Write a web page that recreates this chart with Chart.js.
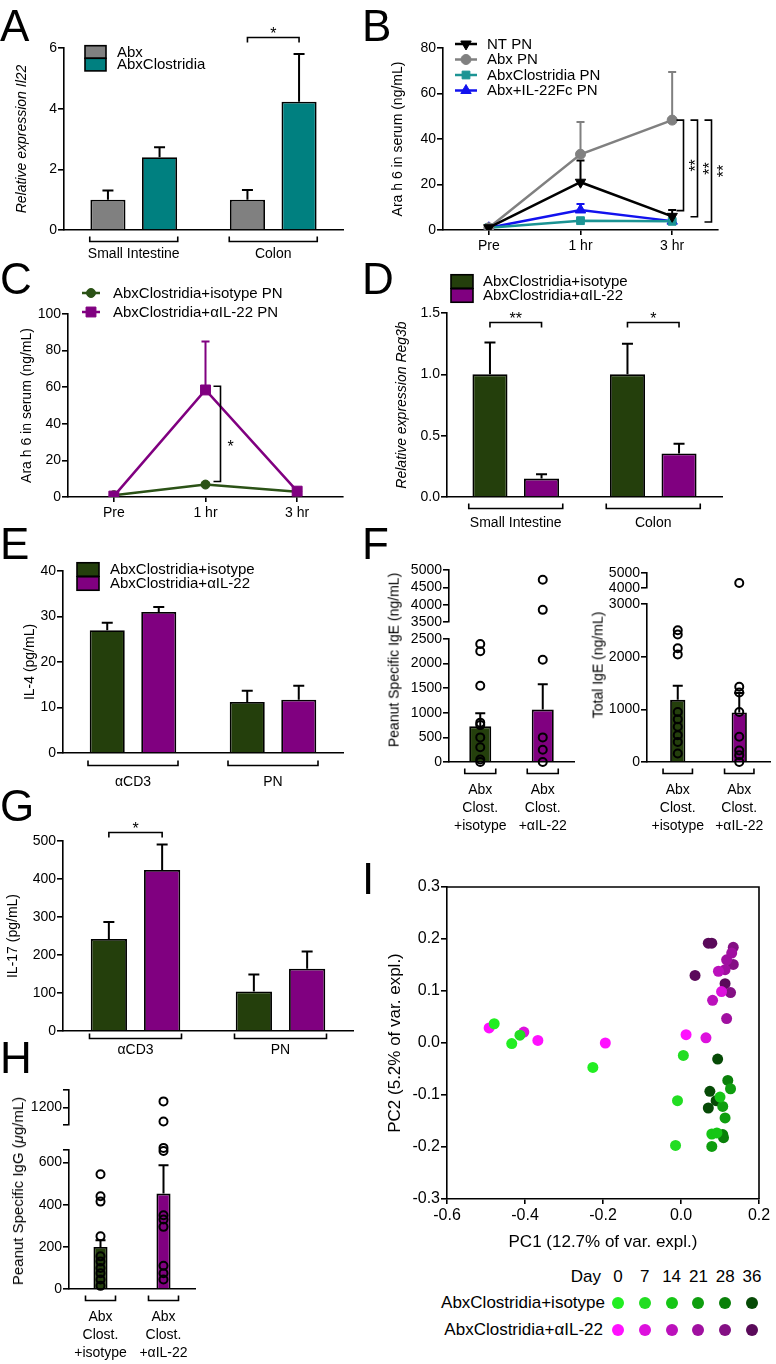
<!DOCTYPE html>
<html>
<head>
<meta charset="utf-8">
<title>IL-22 / Clostridia figure</title>
<script src="https://cdn.jsdelivr.net/npm/chart.js@4.4.1/dist/chart.umd.min.js"></script>
<style>
  body { margin: 0; background: #fff; font-family: 'Liberation Sans', Arial, sans-serif; color: #000; }
  #page { position: relative; width: 776px; height: 1364px; overflow: hidden; background: #fff; }
  .letter { position: absolute; font-size: 44px; line-height: 44px; }
  .ytitle { position: absolute; white-space: nowrap; line-height: 1.2; transform: translate(-50%, -50%) rotate(-90deg); }
  .lg { position: absolute; white-space: nowrap; font-size: 17px; line-height: 20px; }
  .dot { position: absolute; width: 12px; height: 12px; border-radius: 50%; }
</style>
</head>
<body>
<div id="page"></div>
<script>
// --- DATA ---

// A: Il22 expression
const tissueCats = ['Small Intestine', 'Colon'];
const il22Abx = [1.0, 1.0];
const il22AbxHi = [1.3, 1.32];
const il22Clos = [2.4, 4.23];
const il22ClosHi = [2.73, 5.8];

// B: Ara h 6 after challenge
const timeCats = ['Pre', '1 hr', '3 hr'];
const araNT = [1, 21, 6];
const araNTHi = [1, 30.5, 8.8];
const araAbx = [1, 33.3, 48.3];
const araAbxHi = [1, 47.5, 69.5];
const araClos = [1, 4.1, 3.8];
const araClosHi = [1, 4.6, 4.3];
const araFc = [1, 8.8, 3.9];
const araFcHi = [1, 11.4, 4.6];

// C: Ara h 6, isotype vs anti-IL-22
const araIso = [1, 6.8, 2.9];
const araIsoHi = [1, 7.4, 3.3];
const araAnti = [0.5, 58.5, 3.2];
const araAntiHi = [0.5, 85, 3.8];

// D: Reg3b
const reg3bIso = [1.0, 1.0];
const reg3bIsoHi = [1.26, 1.25];
const reg3bAnti = [0.15, 0.355];
const reg3bAntiHi = [0.185, 0.435];

// E: IL-4
const stimCats = ['\u03b1CD3', 'PN'];
const il4Iso = [27, 11.2];
const il4IsoHi = [28.6, 13.7];
const il4Anti = [31, 11.7];
const il4AntiHi = [32.1, 14.8];

// F: IgE
const groupKeys = ['iso', 'anti'];
const groupNames = [['Abx', 'Clost.', '+isotype'], ['Abx', 'Clost.', '+\u03b1IL-22']];
const psIgEMean = [725, 1065];
const psIgEHi = [990, 1580];
const psIgEIso = [2400, 2250, 1550, 800, 750, 500, 300, 50, 0];
const psIgEAnti = [2080, 500, 250, 0];
const psIgEAntiHigh = [4720, 3850];
const totIgEMean = [1180, 940];
const totIgEHi = [1450, 1310];
const totIgEIso = [2500, 2420, 2160, 2040, 950, 810, 670, 510, 380, 160];
const totIgEAnti = [1430, 1320, 950, 480, 220, 130, 0];
const totIgEAntiHigh = [4330];

// G: IL-17
const il17Iso = [242, 104];
const il17IsoHi = [287, 149];
const il17Anti = [424, 164];
const il17AntiHi = [491, 209];

// H: IgG
const igGMean = [200, 453];
const igGHi = [232, 587];
const igGIso = [545, 440, 415, 250, 155, 130, 100, 75, 45, 15];
const igGAnti = [670, 655, 350, 330, 295, 110, 75, 45];
const igGAntiHigh = [1235, 1120];

// I: PCA (PC1, PC2) per treatment and day
const days = ['0', '7', '14', '21', '28', '36'];
const isoD0 = [[-0.479, 0.037], [-0.434, -0.001], [-0.226, -0.047]];
const isoD7 = [[-0.413, 0.015], [0.006, -0.024], [-0.009, -0.111], [-0.014, -0.197]];
const isoD14 = [[0.079, -0.175], [0.092, -0.173], [0.100, -0.104]];
const isoD21 = [[0.079, -0.199], [0.107, -0.122], [0.127, -0.088], [0.113, -0.144]];
const isoD28 = [[0.120, -0.072], [0.107, -0.176], [0.109, -0.182]];
const isoD36 = [[0.094, -0.031], [0.074, -0.093], [0.090, -0.111], [0.070, -0.125]];
const antiD0 = [[-0.492, 0.029], [-0.367, 0.005], [-0.194, 0.000], [0.013, 0.016]];
const antiD7 = [[-0.403, 0.021], [0.064, 0.010], [0.104, 0.099]];
const antiD14 = [[0.081, 0.082], [0.096, 0.138]];
const antiD21 = [[0.117, 0.160], [0.113, 0.141], [0.117, 0.047], [0.130, 0.173]];
const antiD28 = [[0.134, 0.184], [0.134, 0.151], [0.127, 0.097]];
const antiD36 = [[0.070, 0.192], [0.079, 0.192], [0.036, 0.130], [0.113, 0.114]];

// --- COLOURS ---
const GREY = '#808080', TEAL = '#008080', GREEN = '#243f0c', PURPLE = '#800080';
const isoDayColors = ['#22ee22', '#22dd22', '#16c616', '#0f9e0f', '#0a800a', '#064a06'];
const antiDayColors = ['#ff11ff', '#dd11dd', '#bb11bb', '#a010a0', '#841084', '#5a0a5a'];

const FONT = "'Liberation Sans', Arial, sans-serif";
const page = document.getElementById('page');

Chart.defaults.font.family = FONT;
Chart.defaults.font.size = 14;
Chart.defaults.color = '#000';
Chart.defaults.animation = false;
Chart.defaults.responsive = false;
Chart.defaults.plugins.legend.display = false;
Chart.defaults.plugins.tooltip.enabled = false;

// --- HELPERS ---

function makeCanvas(box) {
    const c = document.createElement('canvas');
    c.width = box[2];
    c.height = box[3];
    c.style.cssText = 'position:absolute;left:' + box[0] + 'px;top:' + box[1] + 'px;width:' + box[2] + 'px;height:' + box[3] + 'px';
    page.appendChild(c);
    return c;
}

// canvas box [x,y,w,h] + plot area [L,T,R,B] (page px) -> layout numbers
function pin(box, area, noX) {
    return {
        layout: { padding: { left: 0, top: area[1] - box[1], right: box[0] + box[2] - area[2], bottom: noX ? box[1] + box[3] - area[3] : 0 } },
        yw: area[0] - box[0],
        xh: box[1] + box[3] - area[3]
    };
}

function yLin(p, min, max, step, more) {
    more = more || {};
    const s = {
        min: min, max: max,
        border: { color: '#000', width: 1.6 },
        grid: { drawOnChartArea: false, color: '#000', lineWidth: 1.6, tickLength: 6 },
        ticks: Object.assign({ stepSize: step, padding: 1, autoSkip: false, font: { size: more.tick || 14 },
                               callback: v => String(v) }, more.ticks || {}),
        afterFit: sc => { sc.width = p.yw; sc.paddingTop = 0; sc.paddingBottom = 0; }
    };
    if (more.title) {
        s.title = { display: true, text: more.title, padding: { top: more.tpad, bottom: 0 },
                    font: { size: more.tsize || 14, style: more.italic ? 'italic' : 'normal' } };
    }
    if (more.list) s.afterBuildTicks = sc => { sc.ticks = more.list.map(v => ({ value: v })); };
    return s;
}

function xBars(p, pad, names) {
    const s = {
        offset: true,
        grid: { display: false, drawTicks: false },
        border: { color: '#000', width: 1.6 },
        ticks: { padding: pad, maxRotation: 0, autoSkip: false, font: { size: 14, lineHeight: names ? 1.3 : 1.2 } },
        afterFit: sc => { sc.height = p.xh; sc.paddingLeft = 0; sc.paddingRight = 0; }
    };
    if (names) s.ticks.callback = (v, i) => names[i];
    return s;
}

function xTimes(p, pad) {
    return {
        offset: true,
        grid: { drawOnChartArea: false, offset: false, color: '#000', lineWidth: 1.6, tickLength: 5 },
        border: { color: '#000', width: 1.6 },
        ticks: { padding: pad, maxRotation: 0, font: { size: 14 } },
        afterFit: sc => { sc.height = p.xh; sc.paddingLeft = 0; sc.paddingRight = 0; }
    };
}

const barLook = { borderColor: '#000', borderWidth: 1.8, capW: 11 };

function lineLook(color, style, r, rot) {
    return { borderColor: color, backgroundColor: color, errColor: color, borderWidth: 2.5,
             pointStyle: style, pointRadius: r, pointRotation: rot || 0,
             pointBackgroundColor: color, pointBorderColor: color, pointBorderWidth: 1, capW: 8 };
}

// open circles for individual mice
function dots(key, values) {
    return { type: 'line', data: values.map(v => ({ x: key, y: v })), showLine: false,
             pointRadius: 4, pointBorderWidth: 2, pointBorderColor: '#000',
             pointBackgroundColor: 'rgba(0,0,0,0)', clip: false, order: 0 };
}

function yTitle(html, cx, cy, size) {
    const d = document.createElement('div');
    d.className = 'ytitle';
    d.innerHTML = html;
    d.style.left = cx + 'px';
    d.style.top = cy + 'px';
    d.style.fontSize = size + 'px';
    page.appendChild(d);
}

// --- PLUGINS ---

Chart.register({
    id: 'errorBars',
    beforeDatasetsDraw(chart) {
        const ctx = chart.ctx;
        chart.data.datasets.forEach((ds, i) => {
            if (!ds.errTop) return;
            const meta = chart.getDatasetMeta(i);
            const ys = chart.scales[meta.yAxisID];
            const half = (ds.capW || 10) / 2;
            ctx.save();
            ctx.strokeStyle = ds.errColor || '#000';
            ctx.lineWidth = 2;
            meta.data.forEach((el, j) => {
                const top = ys.getPixelForValue(ds.errTop[j]);
                if (el.y - top < 1) return;
                ctx.beginPath();
                ctx.moveTo(el.x, el.y);
                ctx.lineTo(el.x, top);
                ctx.moveTo(el.x - half, top);
                ctx.lineTo(el.x + half, top);
                ctx.stroke();
            });
            ctx.restore();
        });
    }
});

// brackets under each category
Chart.register({
    id: 'groupBrackets',
    afterDraw(chart, args, o) {
        if (!o.half) return;
        const ctx = chart.ctx;
        const y = Math.round(chart.chartArea.bottom + o.dy) + 0.5;
        const metas = chart.getSortedVisibleDatasetMetas().filter(m => m.type === 'bar');
        ctx.save();
        ctx.strokeStyle = '#000';
        ctx.lineWidth = 1.6;
        chart.data.labels.forEach((_, j) => {
            const xs = metas.map(m => m.data[j].x);
            const c = (Math.min(...xs) + Math.max(...xs)) / 2;
            ctx.beginPath();
            ctx.moveTo(c - o.half, y - 5);
            ctx.lineTo(c - o.half, y);
            ctx.lineTo(c + o.half, y);
            ctx.lineTo(c + o.half, y - 5);
            ctx.stroke();
        });
        ctx.restore();
    }
});

// significance brackets over two bars
Chart.register({
    id: 'sigBars',
    afterDatasetsDraw(chart, args, o) {
        if (!o.items) return;
        const ctx = chart.ctx, ys = chart.scales.y;
        ctx.save();
        ctx.strokeStyle = '#000';
        ctx.fillStyle = '#000';
        ctx.lineWidth = 1.6;
        ctx.font = '16px ' + FONT;
        ctx.textAlign = 'center';
        ctx.textBaseline = 'alphabetic';
        o.items.forEach(it => {
            const a = chart.getDatasetMeta(0).data[it.cat].x;
            const b = chart.getDatasetMeta(1).data[it.cat].x;
            const y = Math.round(ys.getPixelForValue(it.v)) + 0.5;
            ctx.beginPath();
            ctx.moveTo(a, y + 5);
            ctx.lineTo(a, y);
            ctx.lineTo(b, y);
            ctx.lineTo(b, y + 5);
            ctx.stroke();
            ctx.fillText(it.text, (a + b) / 2, y + 1);
        });
        ctx.restore();
    }
});

// vertical significance brackets beside a time point
Chart.register({
    id: 'sideBrackets',
    afterDatasetsDraw(chart, args, o) {
        if (!o.items) return;
        const ctx = chart.ctx, ys = chart.scales.y, xs = chart.scales.x;
        ctx.save();
        ctx.strokeStyle = '#000';
        ctx.fillStyle = '#000';
        ctx.lineWidth = 1.6;
        ctx.font = '16px ' + FONT;
        ctx.textAlign = 'center';
        o.items.forEach(it => {
            const x = Math.round(xs.getPixelForValue(it.cat) + it.dx) + 0.5;
            const t = ys.getPixelForValue(it.top), b = ys.getPixelForValue(it.bot);
            ctx.beginPath();
            ctx.moveTo(x - 7, t);
            ctx.lineTo(x, t);
            ctx.lineTo(x, b);
            ctx.lineTo(x - 7, b);
            ctx.stroke();
            const tx = x + it.tdx, ty = (t + b) / 2 + (it.tdy || 0);
            ctx.save();
            ctx.translate(tx, ty);
            if (it.rot) {
                ctx.rotate(-Math.PI / 2);
                ctx.textBaseline = 'middle';
                ctx.fillText(it.text, 0, 0);
            } else {
                ctx.textBaseline = 'alphabetic';
                ctx.fillText(it.text, 0, 9);
            }
            ctx.restore();
        });
        ctx.restore();
    }
});

// legend drawn at fixed spots
Chart.register({
    id: 'keys',
    afterDraw(chart, args, o) {
        if (!o.items) return;
        const ctx = chart.ctx, ox = o.origin[0], oy = o.origin[1];
        ctx.save();
        ctx.font = '15px ' + FONT;
        ctx.textBaseline = 'middle';
        ctx.textAlign = 'left';
        o.items.forEach(it => {
            const ds = chart.data.datasets[it.ds];
            const y = it.y - oy;
            if (it.w) {
                ctx.fillStyle = ds.backgroundColor;
                ctx.fillRect(it.x - ox, y - it.h / 2, it.w, it.h);
                ctx.strokeStyle = '#000';
                ctx.lineWidth = 1.6;
                ctx.strokeRect(it.x - ox, y - it.h / 2, it.w, it.h);
            } else {
                ctx.strokeStyle = ds.borderColor;
                ctx.fillStyle = ds.borderColor;
                ctx.lineWidth = ds.borderWidth;
                ctx.beginPath();
                ctx.moveTo(it.x1 - ox, y);
                ctx.lineTo(it.x2 - ox, y);
                ctx.stroke();
                ctx.lineWidth = 1;
                const cx = (it.x1 + it.x2) / 2 - ox;
                if (Chart.helpers && Chart.helpers.drawPoint) {
                    Chart.helpers.drawPoint(ctx, { pointStyle: ds.pointStyle, rotation: ds.pointRotation || 0,
                                                   radius: ds.pointRadius, borderWidth: 1 }, cx, y);
                } else {
                    ctx.beginPath();
                    ctx.arc(cx, y, ds.pointRadius, 0, Math.PI * 2);
                    ctx.fill();
                }
            }
            ctx.fillStyle = '#000';
            ctx.fillText(ds.label, it.tx - ox, y + 0.5);
        });
        ctx.restore();
    }
});

// top and right edges of the PCA box
Chart.register({
    id: 'frame',
    afterDraw(chart, args, o) {
        if (!o.on) return;
        const a = chart.chartArea, ctx = chart.ctx;
        ctx.save();
        ctx.strokeStyle = '#000';
        ctx.lineWidth = 1.6;
        ctx.beginPath();
        ctx.moveTo(a.left, a.top);
        ctx.lineTo(a.right, a.top);
        ctx.lineTo(a.right, a.bottom);
        ctx.stroke();
        ctx.restore();
    }
});

// --- A ---
const boxA = [0, 15, 380, 255];
const pA = pin(boxA, [64, 48, 343, 230]);
new Chart(makeCanvas(boxA), {
    type: 'bar',
    data: {
        labels: tissueCats,
        datasets: [
            Object.assign({ label: 'Abx', data: il22Abx, errTop: il22AbxHi, backgroundColor: GREY }, barLook),
            Object.assign({ label: 'AbxClostridia', data: il22Clos, errTop: il22ClosHi, backgroundColor: TEAL }, barLook)
        ]
    },
    options: {
        layout: pA.layout,
        datasets: { bar: { categoryPercentage: 0.74, barPercentage: 0.68 } },
        scales: {
            x: xBars(pA, 16),
            y: yLin(pA, 0, 6, 2, { title: 'Relative expression Il22', italic: true, tpad: 13.6 })
        },
        plugins: {
            groupBrackets: { half: 44, dy: 11 },
            sigBars: { items: [{ cat: 1, v: 6.35, text: '*' }] },
            keys: { origin: boxA, items: [
                { ds: 0, x: 85, y: 52, w: 21, h: 12.6, tx: 117 },
                { ds: 1, x: 85, y: 64.6, w: 21, h: 12.6, tx: 117 }
            ] }
        }
    }
});

// --- B ---
const boxB = [380, 15, 396, 255];
const pB = pin(boxB, [443, 48, 718, 230]);
new Chart(makeCanvas(boxB), {
    type: 'line',
    data: {
        labels: timeCats,
        datasets: [
            Object.assign({ label: 'NT PN', data: araNT, errTop: araNTHi }, lineLook('#000', 'triangle', 6, 180)),
            Object.assign({ label: 'Abx PN', data: araAbx, errTop: araAbxHi }, lineLook(GREY, 'circle', 5)),
            Object.assign({ label: 'AbxClostridia PN', data: araClos, errTop: araClosHi }, lineLook('#1c9494', 'rect', 5.5)),
            Object.assign({ label: 'Abx+IL-22Fc PN', data: araFc, errTop: araFcHi }, lineLook('#1212ee', 'triangle', 6))
        ]
    },
    options: {
        layout: pB.layout,
        scales: {
            x: xTimes(pB, 3),
            y: yLin(pB, 0, 80, 20, { title: 'Ara h 6 in serum (ng/mL)', tpad: 9.6 })
        },
        plugins: {
            sideBrackets: { items: [
                { cat: 2, dx: 11, top: 48.3, bot: 8.5, text: '**', tdx: 13, rot: true },
                { cat: 2, dx: 25, top: 48.3, bot: 5.8, text: '**', tdx: 13, rot: true },
                { cat: 2, dx: 39, top: 48.3, bot: 3.5, text: '**', tdx: 13, rot: true }
            ] },
            keys: { origin: boxB, items: [
                { ds: 0, x1: 455, x2: 477, y: 44, tx: 487 },
                { ds: 1, x1: 455, x2: 477, y: 59.5, tx: 487 },
                { ds: 2, x1: 455, x2: 477, y: 75, tx: 487 },
                { ds: 3, x1: 455, x2: 477, y: 90.5, tx: 487 }
            ] }
        }
    }
});

// --- C ---
const boxC = [0, 270, 380, 265];
const pC = pin(boxC, [68, 314, 343, 497]);
new Chart(makeCanvas(boxC), {
    type: 'line',
    data: {
        labels: timeCats,
        datasets: [
            Object.assign({ label: 'AbxClostridia+isotype PN', data: araIso, errTop: araIsoHi, order: 1 }, lineLook('#2b5216', 'circle', 4.5)),
            Object.assign({ label: 'AbxClostridia+\u03b1IL-22 PN', data: araAnti, errTop: araAntiHi, order: 0 }, lineLook(PURPLE, 'rect', 7))
        ]
    },
    options: {
        layout: pC.layout,
        scales: {
            x: xTimes(pC, 2.3),
            y: yLin(pC, 0, 100, 20, { title: 'Ara h 6 in serum (ng/mL)', tpad: 18.6 })
        },
        plugins: {
            sideBrackets: { items: [{ cat: 1, dx: 14, top: 60.5, bot: 8.5, text: '*', tdx: 10, tdy: 9 }] },
            keys: { origin: boxC, items: [
                { ds: 0, x1: 82, x2: 100, y: 293, tx: 113 },
                { ds: 1, x1: 82, x2: 100, y: 312, tx: 113 }
            ] }
        }
    }
});

// --- D ---
const boxD = [380, 270, 396, 265];
const pD = pin(boxD, [447, 313, 722, 497]);
new Chart(makeCanvas(boxD), {
    type: 'bar',
    data: {
        labels: tissueCats,
        datasets: [
            Object.assign({ label: 'AbxClostridia+isotype', data: reg3bIso, errTop: reg3bIsoHi, backgroundColor: GREEN }, barLook),
            Object.assign({ label: 'AbxClostridia+\u03b1IL-22', data: reg3bAnti, errTop: reg3bAntiHi, backgroundColor: PURPLE }, barLook)
        ]
    },
    options: {
        layout: pD.layout,
        datasets: { bar: { categoryPercentage: 0.75, barPercentage: 0.68 } },
        scales: {
            x: xBars(pD, 17.6),
            y: yLin(pD, 0, 1.5, 0.5, { title: 'Relative expression Reg3b', italic: true, tpad: 13.6,
                                       ticks: { callback: v => v.toFixed(1) } })
        },
        plugins: {
            groupBrackets: { half: 47, dy: 11 },
            sigBars: { items: [{ cat: 0, v: 1.427, text: '**' }, { cat: 1, v: 1.427, text: '*' }] },
            keys: { origin: boxD, items: [
                { ds: 0, x: 451, y: 281.5, w: 22, h: 13.5, tx: 483 },
                { ds: 1, x: 451, y: 295.5, w: 22, h: 13.5, tx: 483 }
            ] }
        }
    }
});

// --- E ---
const boxE = [0, 535, 380, 265];
const pE = pin(boxE, [63, 571, 343, 753]);
new Chart(makeCanvas(boxE), {
    type: 'bar',
    data: {
        labels: stimCats,
        datasets: [
            Object.assign({ label: 'AbxClostridia+isotype', data: il4Iso, errTop: il4IsoHi, backgroundColor: GREEN }, barLook),
            Object.assign({ label: 'AbxClostridia+\u03b1IL-22', data: il4Anti, errTop: il4AntiHi, backgroundColor: PURPLE }, barLook)
        ]
    },
    options: {
        layout: pE.layout,
        datasets: { bar: { categoryPercentage: 0.736, barPercentage: 0.68 } },
        scales: {
            x: xBars(pE, 20.6),
            y: yLin(pE, 0, 40, 10, { title: 'IL-4 (pg/mL)', tpad: 21.6 })
        },
        plugins: {
            groupBrackets: { half: 45, dy: 12 },
            keys: { origin: boxE, items: [
                { ds: 0, x: 77, y: 569.5, w: 22, h: 13.5, tx: 110 },
                { ds: 1, x: 77, y: 583.5, w: 22, h: 13.5, tx: 110 }
            ] }
        }
    }
});

// --- F (broken axes: upper and lower pieces) ---
function brokenTop(box, area, min, max, step, pts, list, labelOf) {
    const p = pin(box, area, true);
    const y = yLin(p, min, max, step, list ? { list: list, ticks: { callback: labelOf } } : {});
    new Chart(makeCanvas(box), {
        type: 'line',
        data: { labels: groupKeys, datasets: [dots('anti', pts)] },
        options: { layout: p.layout, scales: { x: { offset: true, display: false }, y: y } }
    });
}

function brokenBottom(box, area, min, max, step, mean, hi, iso, anti, barPct, half, list, labelOf) {
    const p = pin(box, area);
    const more = list ? { list: list, ticks: { callback: labelOf } } : {};
    new Chart(makeCanvas(box), {
        type: 'bar',
        data: {
            labels: groupKeys,
            datasets: [
                Object.assign({ data: mean, errTop: hi, backgroundColor: [GREEN, PURPLE], order: 1,
                                categoryPercentage: 0.8, barPercentage: barPct }, barLook, { capW: 10 }),
                dots('iso', iso),
                dots('anti', anti)
            ]
        },
        options: {
            layout: p.layout,
            scales: { x: xBars(p, 18.9, groupNames), y: yLin(p, min, max, step, more) },
            plugins: { groupBrackets: { half: half, dy: 11 } }
        }
    });
}

brokenTop([380, 558, 200, 76], [449, 570, 575, 622], 3500, 5000, 500, psIgEAntiHigh);
brokenBottom([380, 627, 200, 215], [449, 639, 575, 762], 0, 2500, 500,
             psIgEMean, psIgEHi, psIgEIso, psIgEAnti, 0.44, 15.5);
yTitle('Peanut Specific IgE (ng/mL)', 394, 660, 14);

brokenTop([580, 561, 196, 39], [647, 573, 775, 588], 4000, 5000, 1000, totIgEAntiHigh);
brokenBottom([580, 592, 196, 250], [647, 604, 775, 762], 0, 3000, 1000,
             totIgEMean, totIgEHi, totIgEIso, totIgEAnti, 0.31, 14.7);
yTitle('Total IgE (ng/mL)', 598, 665, 14);

// --- G ---
const boxG = [0, 815, 380, 250];
const pG = pin(boxG, [63, 841, 353, 1031]);
new Chart(makeCanvas(boxG), {
    type: 'bar',
    data: {
        labels: stimCats,
        datasets: [
            Object.assign({ label: 'AbxClostridia+isotype', data: il17Iso, errTop: il17IsoHi, backgroundColor: GREEN }, barLook),
            Object.assign({ label: 'AbxClostridia+\u03b1IL-22', data: il17Anti, errTop: il17AntiHi, backgroundColor: PURPLE }, barLook)
        ]
    },
    options: {
        layout: pG.layout,
        datasets: { bar: { categoryPercentage: 0.735, barPercentage: 0.68 } },
        scales: {
            x: xBars(pG, 10.6),
            y: yLin(pG, 0, 500, 100, { title: 'IL-17 (pg/mL)', tpad: 4.6 })
        },
        plugins: {
            groupBrackets: { half: 46, dy: 6.5 },
            sigBars: { items: [{ cat: 0, v: 523.7, text: '*' }] }
        }
    }
});

// --- H ---
brokenTop([0, 1078, 220, 59], [69, 1090, 195, 1125], 1100, 1300, 100, igGAntiHigh,
          [1100, 1200, 1300], v => (v === 1200 ? '1200' : ''));
brokenBottom([0, 1138, 220, 226], [69, 1150, 195, 1289], 0, 660, 200,
             igGMean, igGHi, igGIso, igGAnti, 0.28, 15,
             [0, 200, 400, 600, 660], v => (v === 660 ? '' : String(v)));
yTitle('Peanut Specific IgG (<i>\u03bc</i>g/mL)', 17.5, 1191, 15);

// --- I ---
const boxI = [380, 870, 396, 384];
const pI = pin(boxI, [447, 887, 759, 1199]);
const pcaSets = [isoD0, isoD7, isoD14, isoD21, isoD28, isoD36, antiD0, antiD7, antiD14, antiD21, antiD28, antiD36];
const pcaColors = isoDayColors.concat(antiDayColors);
const oneDec = v => (Math.abs(v) < 1e-9 ? 0 : v).toFixed(1);
new Chart(makeCanvas(boxI), {
    type: 'scatter',
    data: {
        datasets: pcaSets.map((pts, k) => ({
            data: pts.map(q => ({ x: q[0], y: q[1] })),
            backgroundColor: pcaColors[k], borderWidth: 0, pointRadius: 5.5
        }))
    },
    options: {
        layout: pI.layout,
        scales: {
            x: {
                type: 'linear', min: -0.6, max: 0.2,
                border: { color: '#000', width: 1.6 },
                grid: { drawOnChartArea: false, color: '#000', lineWidth: 1.6, tickLength: 5 },
                ticks: { stepSize: 0.2, padding: 2.4, autoSkip: false, maxRotation: 0, font: { size: 16 }, callback: oneDec },
                title: { display: true, text: 'PC1 (12.7% of var. expl.)', font: { size: 17 }, padding: { top: 0, bottom: 1.8 } },
                afterFit: sc => { sc.height = pI.xh; sc.paddingLeft = 0; sc.paddingRight = 0; }
            },
            y: yLin(pI, -0.3, 0.3, 0.1, { tick: 16, title: 'PC2 (5.2% of var. expl.)', tsize: 17, tpad: 4.8,
                                          ticks: { callback: oneDec } })
        },
        plugins: { frame: { on: true } }
    }
});

// PCA day legend
function addText(text, css) {
    const d = document.createElement('div');
    d.className = 'lg';
    d.textContent = text;
    d.style.cssText += css;
    page.appendChild(d);
}
addText('Day', 'right:175px;top:1267px;');
addText('AbxClostridia+isotype', 'right:171px;top:1293px;');
addText('AbxClostridia+\u03b1IL-22', 'right:173px;top:1320px;');
days.forEach((d, i) => {
    const x = 618 + i * 26.8;
    addText(d, 'left:' + (x - 15) + 'px;width:30px;text-align:center;top:1267px;');
    [[isoDayColors, 1303], [antiDayColors, 1330]].forEach(row => {
        const dot = document.createElement('div');
        dot.className = 'dot';
        dot.style.left = (x - 6) + 'px';
        dot.style.top = (row[1] - 6) + 'px';
        dot.style.background = row[0][i];
        page.appendChild(dot);
    });
});

// panel letters
[['A', 0, 10], ['B', 362, 10], ['C', 0, 263], ['D', 362, 263], ['E', 0, 528],
 ['F', 362, 528], ['G', 0, 790], ['H', 0, 1042], ['I', 362, 863]].forEach(l => {
    const d = document.createElement('div');
    d.className = 'letter';
    d.textContent = l[0];
    d.style.left = l[1] + 'px';
    d.style.top = (l[2] - 5.7) + 'px';
    page.appendChild(d);
});
</script>
</body>
</html>
